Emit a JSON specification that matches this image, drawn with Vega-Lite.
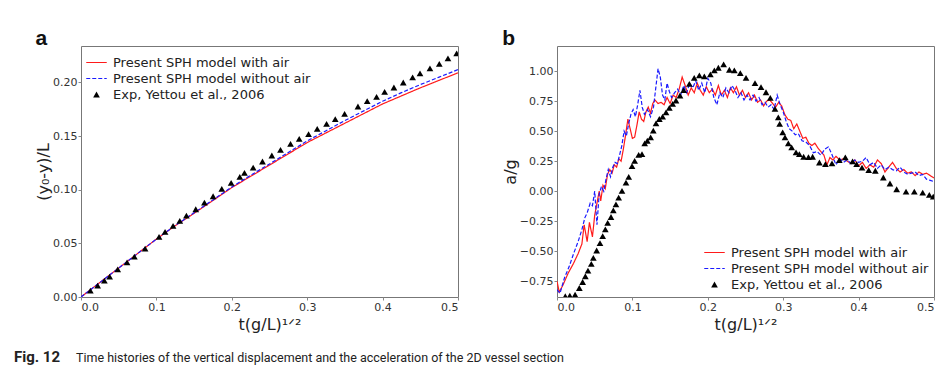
{
  "$schema": "https://vega.github.io/schema/vega-lite/v6.json",
  "background": "white",
  "padding": {"left": 14, "top": 27, "right": 5, "bottom": 5},
  "config": {
    "view": {"stroke": "#777", "strokeWidth": 1},
    "font": "DejaVu Sans",
    "axis": {"grid": false, "domain": false, "tickColor": "#888", "tickSize": 3, "labelPadding": 1, "labelOverlap": false, "labelSeparation": 0, "labelBound": false, "labelFont": "DejaVu Sans", "labelFontSize": 11, "labelColor": "#333", "titleFont": "DejaVu Sans", "titleFontSize": 16, "titleFontWeight": "normal", "titleColor": "#222"},
    "axisY": {"titlePadding": 1, "labelPadding": 1, "labelOverlap": false},
    "axisX": {"titlePadding": 4, "labelOverlap": false},
    "legend": {"labelFont": "DejaVu Sans", "labelFontSize": 13, "labelColor": "#222", "labelLimit": 400, "title": null, "rowPadding": 2, "labelOffset": 10, "padding": 0, "offset": 5, "strokeColor": null}
  },
  "title": {"text": "Fig. 12", "orient": "bottom", "anchor": "start", "frame": "bounds", "font": "Roboto", "fontSize": 15, "fontWeight": "bold", "color": "#222", "dx": -21, "dy": -14, "offset": 0},
  "datasets": {
    "aLines": [
      {"t": 0, "v": 0.0, "s": "air"}, {"t": 0.025, "v": 0.0135, "s": "air"}, {"t": 0.05, "v": 0.027, "s": "air"}, {"t": 0.075, "v": 0.0405, "s": "air"}, {"t": 0.1, "v": 0.054, "s": "air"}, {"t": 0.125, "v": 0.0665, "s": "air"}, {"t": 0.15, "v": 0.078, "s": "air"}, {"t": 0.175, "v": 0.09, "s": "air"}, {"t": 0.2, "v": 0.102, "s": "air"}, {"t": 0.225, "v": 0.1125, "s": "air"}, {"t": 0.25, "v": 0.123, "s": "air"}, {"t": 0.275, "v": 0.1335, "s": "air"}, {"t": 0.3, "v": 0.144, "s": "air"}, {"t": 0.325, "v": 0.153, "s": "air"}, {"t": 0.35, "v": 0.162, "s": "air"}, {"t": 0.375, "v": 0.171, "s": "air"}, {"t": 0.4, "v": 0.18, "s": "air"}, {"t": 0.425, "v": 0.1875, "s": "air"}, {"t": 0.45, "v": 0.195, "s": "air"}, {"t": 0.475, "v": 0.202, "s": "air"}, {"t": 0.5, "v": 0.209, "s": "air"},
      {"t": 0, "v": 0.0, "s": "noair"}, {"t": 0.025, "v": 0.0135, "s": "noair"}, {"t": 0.05, "v": 0.027, "s": "noair"}, {"t": 0.075, "v": 0.0405, "s": "noair"}, {"t": 0.1, "v": 0.054, "s": "noair"}, {"t": 0.125, "v": 0.0667, "s": "noair"}, {"t": 0.15, "v": 0.0785, "s": "noair"}, {"t": 0.175, "v": 0.0905, "s": "noair"}, {"t": 0.2, "v": 0.1025, "s": "noair"}, {"t": 0.225, "v": 0.1135, "s": "noair"}, {"t": 0.25, "v": 0.124, "s": "noair"}, {"t": 0.275, "v": 0.1348, "s": "noair"}, {"t": 0.3, "v": 0.1455, "s": "noair"}, {"t": 0.325, "v": 0.155, "s": "noair"}, {"t": 0.35, "v": 0.1645, "s": "noair"}, {"t": 0.375, "v": 0.1735, "s": "noair"}, {"t": 0.4, "v": 0.1825, "s": "noair"}, {"t": 0.425, "v": 0.1905, "s": "noair"}, {"t": 0.45, "v": 0.198, "s": "noair"}, {"t": 0.475, "v": 0.205, "s": "noair"}, {"t": 0.5, "v": 0.212, "s": "noair"}
    ],
    "aExp": [
      {"t": 0.0124, "v": 0.0059}, {"t": 0.0221, "v": 0.0106}, {"t": 0.031, "v": 0.0152}, {"t": 0.038, "v": 0.019}, {"t": 0.0487, "v": 0.0258}, {"t": 0.0611, "v": 0.0323}, {"t": 0.0708, "v": 0.0376}, {"t": 0.085, "v": 0.0451}, {"t": 0.1035, "v": 0.056}, {"t": 0.1115, "v": 0.0607}, {"t": 0.1221, "v": 0.0663}, {"t": 0.131, "v": 0.0709}, {"t": 0.1398, "v": 0.0759}, {"t": 0.1522, "v": 0.0818}, {"t": 0.1637, "v": 0.088}, {"t": 0.1752, "v": 0.0939}, {"t": 0.1867, "v": 0.1008}, {"t": 0.1991, "v": 0.1064}, {"t": 0.2106, "v": 0.112}, {"t": 0.2168, "v": 0.1157}, {"t": 0.2283, "v": 0.1207}, {"t": 0.2407, "v": 0.1263}, {"t": 0.2531, "v": 0.1319}, {"t": 0.2646, "v": 0.1372}, {"t": 0.2779, "v": 0.1428}, {"t": 0.2894, "v": 0.1474}, {"t": 0.3018, "v": 0.1518}, {"t": 0.3133, "v": 0.1568}, {"t": 0.3257, "v": 0.1614}, {"t": 0.3372, "v": 0.1658}, {"t": 0.3496, "v": 0.1708}, {"t": 0.3673, "v": 0.1776}, {"t": 0.3796, "v": 0.1826}, {"t": 0.392, "v": 0.1866}, {"t": 0.4027, "v": 0.1913}, {"t": 0.415, "v": 0.1953}, {"t": 0.4274, "v": 0.2}, {"t": 0.4398, "v": 0.2047}, {"t": 0.4496, "v": 0.2084}, {"t": 0.4628, "v": 0.2131}, {"t": 0.4752, "v": 0.2174}, {"t": 0.4867, "v": 0.2224}, {"t": 0.4982, "v": 0.2271}
    ],
    "bLines": [
      {"t": 0.0, "v": -0.75, "s": "air"}, {"t": 0.003, "v": -0.84, "s": "air"}, {"t": 0.008, "v": -0.78, "s": "air"}, {"t": 0.015, "v": -0.68, "s": "air"}, {"t": 0.022, "v": -0.6, "s": "air"}, {"t": 0.028, "v": -0.52, "s": "air"}, {"t": 0.033, "v": -0.44, "s": "air"}, {"t": 0.036, "v": -0.28, "s": "air"}, {"t": 0.04, "v": -0.42, "s": "air"}, {"t": 0.043, "v": -0.26, "s": "air"}, {"t": 0.047, "v": -0.38, "s": "air"}, {"t": 0.05, "v": -0.2, "s": "air"}, {"t": 0.053, "v": -0.1, "s": "air"}, {"t": 0.056, "v": 0.0, "s": "air"}, {"t": 0.058, "v": -0.08, "s": "air"}, {"t": 0.061, "v": 0.05, "s": "air"}, {"t": 0.064, "v": 0.02, "s": "air"}, {"t": 0.067, "v": 0.14, "s": "air"}, {"t": 0.07, "v": 0.18, "s": "air"}, {"t": 0.073, "v": 0.15, "s": "air"}, {"t": 0.076, "v": 0.22, "s": "air"}, {"t": 0.079, "v": 0.2, "s": "air"}, {"t": 0.082, "v": 0.27, "s": "air"}, {"t": 0.085, "v": 0.25, "s": "air"}, {"t": 0.088, "v": 0.35, "s": "air"}, {"t": 0.091, "v": 0.47, "s": "air"}, {"t": 0.094, "v": 0.6, "s": "air"}, {"t": 0.097, "v": 0.52, "s": "air"}, {"t": 0.1, "v": 0.44, "s": "air"}, {"t": 0.103, "v": 0.45, "s": "air"}, {"t": 0.106, "v": 0.55, "s": "air"}, {"t": 0.109, "v": 0.66, "s": "air"}, {"t": 0.112, "v": 0.6, "s": "air"}, {"t": 0.115, "v": 0.58, "s": "air"}, {"t": 0.118, "v": 0.66, "s": "air"}, {"t": 0.121, "v": 0.7, "s": "air"}, {"t": 0.124, "v": 0.65, "s": "air"}, {"t": 0.127, "v": 0.73, "s": "air"}, {"t": 0.13, "v": 0.76, "s": "air"}, {"t": 0.134, "v": 0.73, "s": "air"}, {"t": 0.138, "v": 0.74, "s": "air"}, {"t": 0.142, "v": 0.72, "s": "air"}, {"t": 0.146, "v": 0.78, "s": "air"}, {"t": 0.15, "v": 0.73, "s": "air"}, {"t": 0.154, "v": 0.8, "s": "air"}, {"t": 0.158, "v": 0.78, "s": "air"}, {"t": 0.162, "v": 0.85, "s": "air"}, {"t": 0.166, "v": 0.95, "s": "air"}, {"t": 0.17, "v": 0.88, "s": "air"}, {"t": 0.174, "v": 0.8, "s": "air"}, {"t": 0.178, "v": 0.86, "s": "air"}, {"t": 0.182, "v": 0.82, "s": "air"}, {"t": 0.186, "v": 0.9, "s": "air"}, {"t": 0.19, "v": 0.84, "s": "air"}, {"t": 0.194, "v": 0.8, "s": "air"}, {"t": 0.198, "v": 0.87, "s": "air"}, {"t": 0.202, "v": 0.82, "s": "air"}, {"t": 0.206, "v": 0.85, "s": "air"}, {"t": 0.21, "v": 0.8, "s": "air"}, {"t": 0.214, "v": 0.88, "s": "air"}, {"t": 0.218, "v": 0.8, "s": "air"}, {"t": 0.222, "v": 0.84, "s": "air"}, {"t": 0.226, "v": 0.78, "s": "air"}, {"t": 0.23, "v": 0.86, "s": "air"}, {"t": 0.234, "v": 0.82, "s": "air"}, {"t": 0.238, "v": 0.87, "s": "air"}, {"t": 0.242, "v": 0.8, "s": "air"}, {"t": 0.246, "v": 0.84, "s": "air"}, {"t": 0.25, "v": 0.78, "s": "air"}, {"t": 0.254, "v": 0.82, "s": "air"}, {"t": 0.258, "v": 0.76, "s": "air"}, {"t": 0.262, "v": 0.8, "s": "air"}, {"t": 0.266, "v": 0.74, "s": "air"}, {"t": 0.27, "v": 0.76, "s": "air"}, {"t": 0.274, "v": 0.71, "s": "air"}, {"t": 0.278, "v": 0.75, "s": "air"}, {"t": 0.282, "v": 0.76, "s": "air"}, {"t": 0.286, "v": 0.73, "s": "air"}, {"t": 0.29, "v": 0.7, "s": "air"}, {"t": 0.294, "v": 0.74, "s": "air"}, {"t": 0.298, "v": 0.71, "s": "air"}, {"t": 0.302, "v": 0.64, "s": "air"}, {"t": 0.306, "v": 0.6, "s": "air"}, {"t": 0.31, "v": 0.59, "s": "air"}, {"t": 0.314, "v": 0.52, "s": "air"}, {"t": 0.318, "v": 0.56, "s": "air"}, {"t": 0.322, "v": 0.5, "s": "air"}, {"t": 0.326, "v": 0.44, "s": "air"}, {"t": 0.33, "v": 0.45, "s": "air"}, {"t": 0.334, "v": 0.4, "s": "air"}, {"t": 0.338, "v": 0.38, "s": "air"}, {"t": 0.342, "v": 0.4, "s": "air"}, {"t": 0.346, "v": 0.36, "s": "air"}, {"t": 0.35, "v": 0.33, "s": "air"}, {"t": 0.354, "v": 0.3, "s": "air"}, {"t": 0.358, "v": 0.22, "s": "air"}, {"t": 0.362, "v": 0.28, "s": "air"}, {"t": 0.366, "v": 0.26, "s": "air"}, {"t": 0.37, "v": 0.29, "s": "air"}, {"t": 0.375, "v": 0.26, "s": "air"}, {"t": 0.38, "v": 0.27, "s": "air"}, {"t": 0.385, "v": 0.25, "s": "air"}, {"t": 0.39, "v": 0.23, "s": "air"}, {"t": 0.395, "v": 0.26, "s": "air"}, {"t": 0.4, "v": 0.21, "s": "air"}, {"t": 0.405, "v": 0.24, "s": "air"}, {"t": 0.41, "v": 0.19, "s": "air"}, {"t": 0.415, "v": 0.22, "s": "air"}, {"t": 0.42, "v": 0.2, "s": "air"}, {"t": 0.425, "v": 0.26, "s": "air"}, {"t": 0.43, "v": 0.23, "s": "air"}, {"t": 0.435, "v": 0.16, "s": "air"}, {"t": 0.44, "v": 0.2, "s": "air"}, {"t": 0.445, "v": 0.24, "s": "air"}, {"t": 0.45, "v": 0.19, "s": "air"}, {"t": 0.455, "v": 0.16, "s": "air"}, {"t": 0.46, "v": 0.18, "s": "air"}, {"t": 0.465, "v": 0.15, "s": "air"}, {"t": 0.47, "v": 0.16, "s": "air"}, {"t": 0.475, "v": 0.13, "s": "air"}, {"t": 0.48, "v": 0.16, "s": "air"}, {"t": 0.485, "v": 0.14, "s": "air"}, {"t": 0.49, "v": 0.15, "s": "air"}, {"t": 0.495, "v": 0.13, "s": "air"}, {"t": 0.5, "v": 0.11, "s": "air"},
      {"t": 0.0, "v": -0.82, "s": "noair"}, {"t": 0.004, "v": -0.85, "s": "noair"}, {"t": 0.01, "v": -0.72, "s": "noair"}, {"t": 0.016, "v": -0.63, "s": "noair"}, {"t": 0.022, "v": -0.52, "s": "noair"}, {"t": 0.028, "v": -0.42, "s": "noair"}, {"t": 0.033, "v": -0.32, "s": "noair"}, {"t": 0.037, "v": -0.22, "s": "noair"}, {"t": 0.04, "v": -0.18, "s": "noair"}, {"t": 0.044, "v": -0.1, "s": "noair"}, {"t": 0.047, "v": -0.12, "s": "noair"}, {"t": 0.05, "v": 0.0, "s": "noair"}, {"t": 0.053, "v": -0.28, "s": "noair"}, {"t": 0.056, "v": -0.02, "s": "noair"}, {"t": 0.059, "v": 0.04, "s": "noair"}, {"t": 0.062, "v": 0.0, "s": "noair"}, {"t": 0.065, "v": 0.1, "s": "noair"}, {"t": 0.068, "v": 0.18, "s": "noair"}, {"t": 0.071, "v": 0.12, "s": "noair"}, {"t": 0.074, "v": 0.2, "s": "noair"}, {"t": 0.077, "v": 0.24, "s": "noair"}, {"t": 0.08, "v": 0.23, "s": "noair"}, {"t": 0.083, "v": 0.3, "s": "noair"}, {"t": 0.086, "v": 0.38, "s": "noair"}, {"t": 0.089, "v": 0.5, "s": "noair"}, {"t": 0.092, "v": 0.46, "s": "noair"}, {"t": 0.095, "v": 0.56, "s": "noair"}, {"t": 0.098, "v": 0.64, "s": "noair"}, {"t": 0.101, "v": 0.68, "s": "noair"}, {"t": 0.104, "v": 0.62, "s": "noair"}, {"t": 0.107, "v": 0.72, "s": "noair"}, {"t": 0.11, "v": 0.84, "s": "noair"}, {"t": 0.113, "v": 0.7, "s": "noair"}, {"t": 0.116, "v": 0.64, "s": "noair"}, {"t": 0.12, "v": 0.68, "s": "noair"}, {"t": 0.124, "v": 0.62, "s": "noair"}, {"t": 0.128, "v": 0.7, "s": "noair"}, {"t": 0.131, "v": 0.86, "s": "noair"}, {"t": 0.134, "v": 1.02, "s": "noair"}, {"t": 0.137, "v": 0.95, "s": "noair"}, {"t": 0.14, "v": 0.8, "s": "noair"}, {"t": 0.143, "v": 0.76, "s": "noair"}, {"t": 0.146, "v": 0.9, "s": "noair"}, {"t": 0.149, "v": 0.83, "s": "noair"}, {"t": 0.152, "v": 0.78, "s": "noair"}, {"t": 0.156, "v": 0.82, "s": "noair"}, {"t": 0.16, "v": 0.85, "s": "noair"}, {"t": 0.164, "v": 0.8, "s": "noair"}, {"t": 0.168, "v": 0.88, "s": "noair"}, {"t": 0.172, "v": 0.82, "s": "noair"}, {"t": 0.176, "v": 0.9, "s": "noair"}, {"t": 0.18, "v": 0.86, "s": "noair"}, {"t": 0.184, "v": 0.92, "s": "noair"}, {"t": 0.188, "v": 0.84, "s": "noair"}, {"t": 0.192, "v": 0.9, "s": "noair"}, {"t": 0.196, "v": 0.82, "s": "noair"}, {"t": 0.2, "v": 0.94, "s": "noair"}, {"t": 0.204, "v": 0.9, "s": "noair"}, {"t": 0.208, "v": 0.78, "s": "noair"}, {"t": 0.212, "v": 0.72, "s": "noair"}, {"t": 0.216, "v": 0.82, "s": "noair"}, {"t": 0.22, "v": 0.78, "s": "noair"}, {"t": 0.224, "v": 0.86, "s": "noair"}, {"t": 0.228, "v": 0.82, "s": "noair"}, {"t": 0.232, "v": 0.88, "s": "noair"}, {"t": 0.236, "v": 0.84, "s": "noair"}, {"t": 0.24, "v": 0.78, "s": "noair"}, {"t": 0.244, "v": 0.82, "s": "noair"}, {"t": 0.248, "v": 0.76, "s": "noair"}, {"t": 0.252, "v": 0.8, "s": "noair"}, {"t": 0.256, "v": 0.76, "s": "noair"}, {"t": 0.26, "v": 0.8, "s": "noair"}, {"t": 0.264, "v": 0.75, "s": "noair"}, {"t": 0.268, "v": 0.78, "s": "noair"}, {"t": 0.272, "v": 0.72, "s": "noair"}, {"t": 0.276, "v": 0.74, "s": "noair"}, {"t": 0.28, "v": 0.7, "s": "noair"}, {"t": 0.284, "v": 0.72, "s": "noair"}, {"t": 0.288, "v": 0.68, "s": "noair"}, {"t": 0.292, "v": 0.8, "s": "noair"}, {"t": 0.296, "v": 0.72, "s": "noair"}, {"t": 0.3, "v": 0.66, "s": "noair"}, {"t": 0.304, "v": 0.58, "s": "noair"}, {"t": 0.308, "v": 0.52, "s": "noair"}, {"t": 0.312, "v": 0.5, "s": "noair"}, {"t": 0.316, "v": 0.47, "s": "noair"}, {"t": 0.32, "v": 0.48, "s": "noair"}, {"t": 0.325, "v": 0.42, "s": "noair"}, {"t": 0.33, "v": 0.41, "s": "noair"}, {"t": 0.335, "v": 0.38, "s": "noair"}, {"t": 0.34, "v": 0.32, "s": "noair"}, {"t": 0.345, "v": 0.33, "s": "noair"}, {"t": 0.35, "v": 0.3, "s": "noair"}, {"t": 0.355, "v": 0.35, "s": "noair"}, {"t": 0.36, "v": 0.37, "s": "noair"}, {"t": 0.365, "v": 0.3, "s": "noair"}, {"t": 0.37, "v": 0.22, "s": "noair"}, {"t": 0.375, "v": 0.27, "s": "noair"}, {"t": 0.38, "v": 0.24, "s": "noair"}, {"t": 0.385, "v": 0.26, "s": "noair"}, {"t": 0.39, "v": 0.23, "s": "noair"}, {"t": 0.395, "v": 0.26, "s": "noair"}, {"t": 0.4, "v": 0.24, "s": "noair"}, {"t": 0.405, "v": 0.25, "s": "noair"}, {"t": 0.41, "v": 0.28, "s": "noair"}, {"t": 0.415, "v": 0.22, "s": "noair"}, {"t": 0.42, "v": 0.24, "s": "noair"}, {"t": 0.425, "v": 0.19, "s": "noair"}, {"t": 0.43, "v": 0.22, "s": "noair"}, {"t": 0.435, "v": 0.18, "s": "noair"}, {"t": 0.44, "v": 0.2, "s": "noair"}, {"t": 0.445, "v": 0.18, "s": "noair"}, {"t": 0.45, "v": 0.17, "s": "noair"}, {"t": 0.455, "v": 0.2, "s": "noair"}, {"t": 0.46, "v": 0.16, "s": "noair"}, {"t": 0.465, "v": 0.14, "s": "noair"}, {"t": 0.47, "v": 0.15, "s": "noair"}, {"t": 0.475, "v": 0.16, "s": "noair"}, {"t": 0.48, "v": 0.13, "s": "noair"}, {"t": 0.485, "v": 0.14, "s": "noair"}, {"t": 0.49, "v": 0.1, "s": "noair"}, {"t": 0.495, "v": 0.09, "s": "noair"}, {"t": 0.5, "v": 0.08, "s": "noair"}
    ],
    "bExp": [
      {"t": 0.011, "v": -0.875}, {"t": 0.017, "v": -0.87}, {"t": 0.024, "v": -0.862}, {"t": 0.0296, "v": -0.806}, {"t": 0.034, "v": -0.756}, {"t": 0.0376, "v": -0.708}, {"t": 0.0411, "v": -0.661}, {"t": 0.0455, "v": -0.605}, {"t": 0.0482, "v": -0.555}, {"t": 0.0526, "v": -0.494}, {"t": 0.057, "v": -0.432}, {"t": 0.0606, "v": -0.374}, {"t": 0.0641, "v": -0.318}, {"t": 0.0672, "v": -0.263}, {"t": 0.0716, "v": -0.215}, {"t": 0.0747, "v": -0.16}, {"t": 0.0782, "v": -0.109}, {"t": 0.0818, "v": -0.054}, {"t": 0.0862, "v": 0.003}, {"t": 0.0915, "v": 0.072}, {"t": 0.0951, "v": 0.12}, {"t": 0.0995, "v": 0.209}, {"t": 0.103, "v": 0.253}, {"t": 0.1083, "v": 0.303}, {"t": 0.1127, "v": 0.308}, {"t": 0.1163, "v": 0.398}, {"t": 0.1198, "v": 0.42}, {"t": 0.1242, "v": 0.448}, {"t": 0.1277, "v": 0.504}, {"t": 0.1313, "v": 0.565}, {"t": 0.1357, "v": 0.601}, {"t": 0.1401, "v": 0.621}, {"t": 0.1446, "v": 0.657}, {"t": 0.149, "v": 0.693}, {"t": 0.1534, "v": 0.727}, {"t": 0.1578, "v": 0.755}, {"t": 0.1631, "v": 0.797}, {"t": 0.168, "v": 0.842}, {"t": 0.1755, "v": 0.894}, {"t": 0.182, "v": 0.944}, {"t": 0.1888, "v": 0.964}, {"t": 0.1954, "v": 0.956}, {"t": 0.2034, "v": 0.972}, {"t": 0.2087, "v": 1.006}, {"t": 0.214, "v": 1.028}, {"t": 0.221, "v": 1.056}, {"t": 0.2286, "v": 1.011}, {"t": 0.2352, "v": 1.006}, {"t": 0.2431, "v": 0.983}, {"t": 0.2507, "v": 0.944}, {"t": 0.2626, "v": 0.9}, {"t": 0.2706, "v": 0.866}, {"t": 0.2772, "v": 0.824}, {"t": 0.2829, "v": 0.777}, {"t": 0.2891, "v": 0.685}, {"t": 0.2935, "v": 0.615}, {"t": 0.2953, "v": 0.56}, {"t": 0.2993, "v": 0.49}, {"t": 0.3024, "v": 0.448}, {"t": 0.3068, "v": 0.398}, {"t": 0.3112, "v": 0.365}, {"t": 0.317, "v": 0.323}, {"t": 0.3214, "v": 0.308}, {"t": 0.3271, "v": 0.287}, {"t": 0.3335, "v": 0.284}, {"t": 0.339, "v": 0.287}, {"t": 0.348, "v": 0.239}, {"t": 0.356, "v": 0.225}, {"t": 0.3647, "v": 0.231}, {"t": 0.3744, "v": 0.259}, {"t": 0.3824, "v": 0.281}, {"t": 0.392, "v": 0.248}, {"t": 0.3974, "v": 0.225}, {"t": 0.4045, "v": 0.197}, {"t": 0.4134, "v": 0.175}, {"t": 0.4222, "v": 0.17}, {"t": 0.4328, "v": 0.114}, {"t": 0.4416, "v": 0.064}, {"t": 0.4505, "v": 0.016}, {"t": 0.4629, "v": -0.003}, {"t": 0.4739, "v": -0.003}, {"t": 0.485, "v": -0.012}, {"t": 0.4938, "v": -0.031}, {"t": 0.499, "v": -0.045}
    ]
  },
  "vconcat": [
    {
      "title": {"text": "Time histories of the vertical displacement and the acceleration of the 2D vessel section", "orient": "bottom", "anchor": "start", "frame": "bounds", "font": "Roboto", "fontSize": 12.5, "fontWeight": "normal", "color": "#222", "dx": 41, "offset": 19},
      "hconcat": [
        {
          "width": 377, "height": 251,
          "title": {"text": "a", "anchor": "start", "frame": "bounds", "font": "Liberation Sans", "fontSize": 21, "fontWeight": "bold", "color": "#111", "offset": -3},
          "layer": [
            {
              "data": {"name": "aLines"},
              "mark": {"type": "line", "strokeWidth": 1.2, "clip": true},
              "encoding": {
                "x": {"field": "t", "type": "quantitative", "scale": {"domain": [0, 0.5], "nice": false}, "axis": {"values": [0, 0.1, 0.2, 0.3, 0.4, 0.5], "format": ".1f", "title": "t(g/L)¹ᐟ²", "labelOverlap": false}},
                "y": {"field": "v", "type": "quantitative", "scale": {"domain": [0, 0.234], "nice": false, "zero": false}, "axis": {"values": [0, 0.05, 0.1, 0.15, 0.2], "format": ".2f", "title": "(y₀-y)/L", "labelOverlap": false}},
                "color": {"field": "s", "type": "nominal", "scale": {"domain": ["air", "noair", "exp"], "range": ["#ff1a1a", "#1a1aff", "#000000"]},
                  "legend": {"orient": "none", "legendX": 9, "legendY": 10,
                    "labelExpr": "datum.value == 'air' ? 'Present SPH model with air' : datum.value == 'noair' ? 'Present SPH model without air' : 'Exp, Yettou et al., 2006'",
                    "encode": {"symbols": {"update": {
                      "shape": {"signal": "datum.value == 'exp' ? 'triangle-up' : 'stroke'"},
                      "size": {"signal": "datum.value == 'exp' ? 45 : 420"},
                      "strokeDash": {"signal": "datum.value == 'noair' ? [4, 2] : [1, 0]"},
                      "fill": {"signal": "datum.value == 'exp' ? '#000000' : 'transparent'"},
                      "strokeWidth": {"signal": "datum.value == 'exp' ? 0 : 1.2"}
                    }}}}},
                "strokeDash": {"field": "s", "type": "nominal", "scale": {"domain": ["air", "noair", "exp"], "range": [[1, 0], [4, 2], [1, 0]]}, "legend": null}
              }
            },
            {
              "data": {"name": "aExp"},
              "mark": {"type": "point", "shape": "triangle-up", "filled": true, "color": "#000", "opacity": 1, "size": 45, "clip": true},
              "encoding": {
                "x": {"field": "t", "type": "quantitative", "axis": {"labelOverlap": false}},
                "y": {"field": "v", "type": "quantitative", "axis": {"labelOverlap": false}}
              }
            }
          ]
        },
        {
          "width": 377, "height": 251,
          "title": {"text": "b", "anchor": "start", "frame": "bounds", "font": "Liberation Sans", "fontSize": 21, "fontWeight": "bold", "color": "#111", "offset": -3},
          "layer": [
            {
              "data": {"name": "bLines"},
              "mark": {"type": "line", "strokeWidth": 1.2, "clip": true},
              "encoding": {
                "x": {"field": "t", "type": "quantitative", "scale": {"domain": [0, 0.5], "nice": false}, "axis": {"values": [0, 0.1, 0.2, 0.3, 0.4, 0.5], "format": ".1f", "title": "t(g/L)¹ᐟ²", "labelOverlap": false}},
                "y": {"field": "v", "type": "quantitative", "scale": {"domain": [-0.881, 1.209], "nice": false, "zero": false}, "axis": {"values": [-0.75, -0.5, -0.25, 0, 0.25, 0.5, 0.75, 1.0], "format": ".2f", "title": "a/g", "labelOverlap": false, "labelSeparation": 0}},
                "color": {"field": "s", "type": "nominal", "scale": {"domain": ["air", "noair", "exp"], "range": ["#ff1a1a", "#1a1aff", "#000000"]},
                  "legend": {"orient": "bottom-right", "offset": 5,
                    "labelExpr": "datum.value == 'air' ? 'Present SPH model with air' : datum.value == 'noair' ? 'Present SPH model without air' : 'Exp, Yettou et al., 2006'",
                    "encode": {"symbols": {"update": {
                      "shape": {"signal": "datum.value == 'exp' ? 'triangle-up' : 'stroke'"},
                      "size": {"signal": "datum.value == 'exp' ? 45 : 420"},
                      "strokeDash": {"signal": "datum.value == 'noair' ? [4, 2] : [1, 0]"},
                      "fill": {"signal": "datum.value == 'exp' ? '#000000' : 'transparent'"},
                      "strokeWidth": {"signal": "datum.value == 'exp' ? 0 : 1.2"}
                    }}}}},
                "strokeDash": {"field": "s", "type": "nominal", "scale": {"domain": ["air", "noair", "exp"], "range": [[1, 0], [4, 2], [1, 0]]}, "legend": null}
              }
            },
            {
              "data": {"name": "bExp"},
              "mark": {"type": "point", "shape": "triangle-up", "filled": true, "color": "#000", "opacity": 1, "size": 45, "clip": true},
              "encoding": {
                "x": {"field": "t", "type": "quantitative", "axis": {"labelOverlap": false}},
                "y": {"field": "v", "type": "quantitative", "axis": {"labelOverlap": false, "values": [-0.75, -0.5, -0.25, 0, 0.25, 0.5, 0.75, 1.0]}}
              }
            }
          ]
        }
      ],
      "spacing": 99,
      "bounds": "flush",
      "resolve": {"scale": {"color": "independent", "strokeDash": "independent"}, "legend": {"color": "independent"}}
    }
  ]
}
